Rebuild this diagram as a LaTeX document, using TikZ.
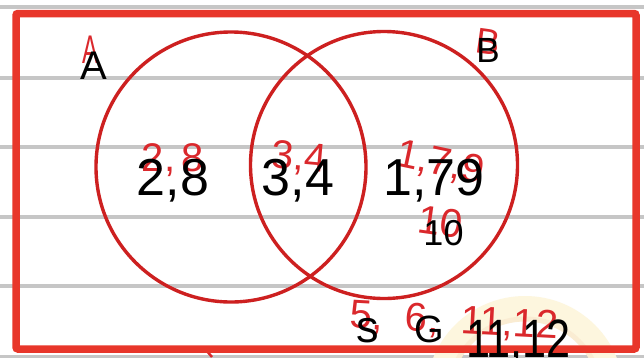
\documentclass[tikz,border=0pt]{standalone}
\usepackage{fontspec}
\setmainfont{Liberation Sans}
\definecolor{linegray}{RGB}{198,198,198}
\definecolor{framered}{RGB}{232,54,42}
\definecolor{circred}{RGB}{205,32,32}
\definecolor{handred}{RGB}{218,40,44}
\definecolor{ringyellow}{RGB}{253,246,222}
\definecolor{ringbeige}{RGB}{250,236,210}
\begin{document}
\begin{tikzpicture}[x=1pt,y=-1pt,
  paperline/.style={draw=linegray, line width=4pt},
  frame/.style={draw=framered, line width=7.5pt, rounded corners=2pt},
  setcircle/.style={draw=circred, line width=3.4pt},
  typed/.style={inner sep=0pt, anchor=base, text=black},
  hand/.style={inner sep=0pt, text=handred}]
\clip (0,0) rectangle (644,357);
\useasboundingbox (0,0) rectangle (644,357);
\fill[white] (0,0) rectangle (644,357);
% lined paper
\foreach \yy in {7,78,147,217,286,357}
  \draw[paperline] (0,\yy) -- (644,\yy);
% faint yellow sticker ring
\draw[draw=ringyellow, line width=22pt] (525,395) circle[radius=88];
\draw[draw=ringbeige, line width=5pt] (525,395) circle[radius=76];
% handwritten red labels
\node[hand, font=\fontsize{40}{40}\selectfont, xscale=0.6, transform shape] (hA) at (91,50) {A};
\node[hand, font=\fontsize{36}{36}\selectfont, rotate=-8] (hB) at (488,42) {B};
\node[hand, font=\fontsize{40}{40}\selectfont] (h28) at (173,160) {2,\,8};
\node[hand, font=\fontsize{40}{40}\selectfont, rotate=-5] (h34) at (299,159) {3,4};
\node[hand, font=\fontsize{40}{40}\selectfont, rotate=-12] (h179) at (440,164) {1,7,9};
\node[hand, font=\fontsize{40}{40}\selectfont, rotate=-8] (h10) at (440,222) {10};
\node[hand, font=\fontsize{40}{40}\selectfont, rotate=-3] (hU) at (454,322) {5,\; 6,\; 11,12};
\draw[draw=handred, line width=2.5pt] (206,350) -- (212,357);
% sets
\draw[setcircle] (231,167) circle[radius=135];
\draw[setcircle] (384,165) circle[radius=133.5];
% universal frame
\draw[frame] (16,13.5) rectangle (636,349);
% typed labels
\node[typed, font=\fontsize{40}{40}\selectfont] (lA) at (93.5,79) {A};
\node[typed, font=\fontsize{35}{35}\selectfont] (lB) at (488,62) {B};
\node[typed, font=\fontsize{52}{52}\selectfont] (a) at (173,195) {2,8};
\node[typed, font=\fontsize{52}{52}\selectfont] (ab) at (298,195) {3,4};
\node[typed, font=\fontsize{52}{52}\selectfont] (b) at (434,195) {1,79};
\node[typed, font=\fontsize{36}{36}\selectfont] (b2) at (443.5,245) {10};
\node[typed, font=\fontsize{45}{45}\selectfont] (u1) at (367.5,342) {s};
\node[typed, font=\fontsize{38}{38}\selectfont] (u2) at (429,342) {G};
\node[typed, font=\fontsize{54}{54}\selectfont] (u3) at (518.5,357) {\scalebox{0.8}[1]{11,12}};
\end{tikzpicture}
\end{document}
